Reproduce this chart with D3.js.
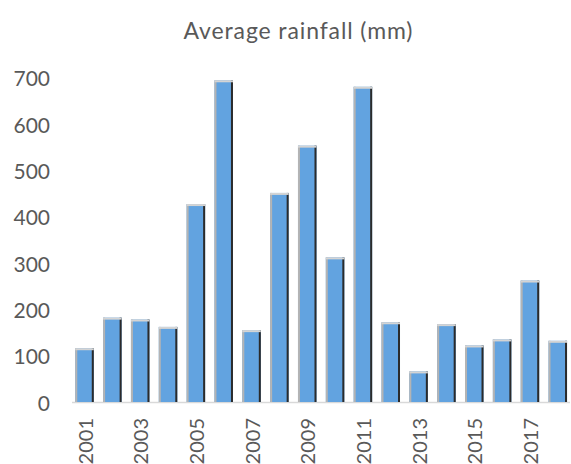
<!DOCTYPE html>
<html><head><meta charset="utf-8">
<script src="https://cdn.jsdelivr.net/npm/d3@7"></script>
<style>body{margin:0;background:#fff}svg{display:block}</style>
</head><body>
<script>
const years = ["2001","2002","2003","2004","2005","2006","2007","2008","2009","2010","2011","2012","2013","2014","2015","2016","2017","2018"];
const rainfall = [116,182,178,162,427,694,155,451,553,312,680,172,66,168,122,135,262,132];
const yTicks = [0,100,200,300,400,500,600,700];
const xLabels = ["2001","2003","2005","2007","2009","2011","2013","2015","2017"];
const title = "Average rainfall (mm)";

const W = 571, H = 464;
const svg = d3.select("body").append("svg").attr("width", W).attr("height", H);
const font = "Lato, sans-serif";

const x = d3.scaleBand().domain(years).range([70.6, 571.7]).paddingInner(0.335).paddingOuter(0.1675);
const y = d3.scaleLinear().domain([0, 700]).range([402, 77.5]);

svg.append("text").attr("x", 298).attr("y", 39).attr("text-anchor", "middle")
  .attr("font-family", font).attr("font-size", 23).attr("fill", "#595959")
  .attr("textLength", 229).attr("lengthAdjust", "spacing").text(title);

// y axis labels
const yAxis = d3.axisLeft(y).tickValues(yTicks).tickSize(0).tickPadding(0);
const ga = svg.append("g").attr("transform", "translate(50,1.5)").call(yAxis);
ga.select(".domain").remove();
ga.selectAll("text").attr("font-family", font).attr("font-size", 21).attr("fill", "#595959");

// baseline
svg.append("line").attr("x1", 72).attr("x2", 570).attr("y1", y(0)+0.5).attr("y2", y(0)+0.5)
  .attr("stroke", "#d9d9d9").attr("stroke-width", 1.5);

// bars
const bw = x.bandwidth();
const g = svg.append("g");
years.forEach((yr, i) => {
  const x0 = x(yr), yt = y(rainfall[i]), h = y(0) - yt;
  g.append("rect").attr("x", x0).attr("y", yt).attr("width", bw).attr("height", h).attr("fill", "#62a3e0");
  g.append("rect").attr("x", x0).attr("y", yt).attr("width", 2).attr("height", h).attr("fill", "#b4b4b4");
  g.append("rect").attr("x", x0 + bw - 2).attr("y", yt).attr("width", 2).attr("height", h).attr("fill", "#2b2b2b");
  g.append("rect").attr("x", x0).attr("y", yt).attr("width", bw).attr("height", 2).attr("fill", "#d4d4d4");
});

// x labels
const xAxis = d3.axisBottom(x).tickValues(xLabels).tickSize(0).tickPadding(0);
const gx = svg.append("g").attr("transform", `translate(0,${y(0)})`).call(xAxis);
gx.select(".domain").remove();
gx.selectAll("text").attr("font-family", font).attr("font-size", 20).attr("fill", "#595959")
  .attr("text-anchor", "end").attr("dy", null)
  .attr("transform", "translate(0,16) rotate(-90)").attr("x", 0).attr("y", 0).attr("dominant-baseline", "central");
</script>
</body></html>
